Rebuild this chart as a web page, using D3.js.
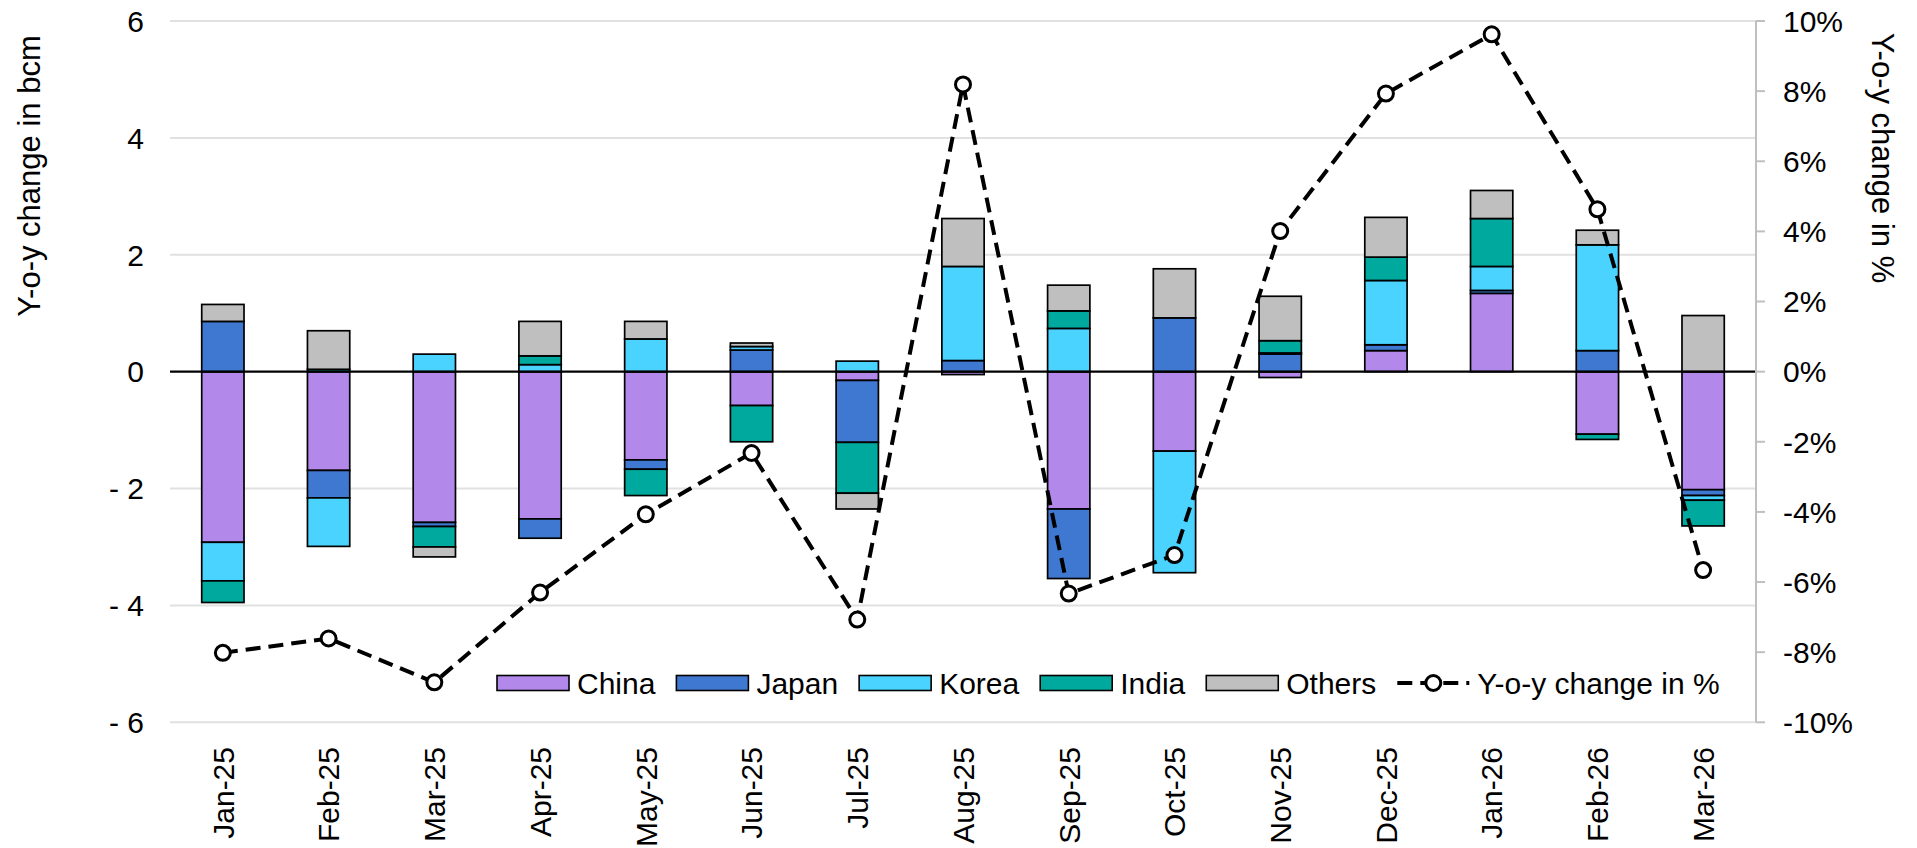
<!DOCTYPE html>
<html>
<head>
<meta charset="utf-8">
<script src="https://cdn.jsdelivr.net/npm/d3@7"></script>
<style>
  html, body { margin: 0; padding: 0; background: #fff; }
  svg { display: block; font-family: "Liberation Sans", Arial, sans-serif; }
</style>
</head>
<body>
<svg id="chart" width="1917" height="848"></svg>
<script>
// Monthly y-o-y change in LNG imports by buyer (bcm) and total y-o-y change (%)
const months = ["Jan-25","Feb-25","Mar-25","Apr-25","May-25","Jun-25","Jul-25","Aug-25",
                "Sep-25","Oct-25","Nov-25","Dec-25","Jan-26","Feb-26","Mar-26"];
const china  = [-2.92,-1.69,-2.58,-2.52,-1.51,-0.58,-0.15,-0.05,-2.35,-1.36,-0.10, 0.36, 1.34,-1.07,-2.02];
const japan  = [ 0.86,-0.47,-0.07,-0.33,-0.16, 0.37,-1.06, 0.19,-1.19, 0.92, 0.30, 0.10, 0.05, 0.36,-0.10];
const korea  = [-0.66,-0.83, 0.30, 0.12, 0.56, 0.06, 0.18, 1.61, 0.74,-2.08, 0.02, 1.10, 0.41, 1.81,-0.08];
const india  = [-0.37, 0.04,-0.35, 0.15,-0.45,-0.62,-0.87, 0.00, 0.30, 0.00, 0.21, 0.40, 0.82,-0.09,-0.44];
const others = [ 0.29, 0.66,-0.17, 0.59, 0.30, 0.06,-0.27, 0.82, 0.44, 0.84, 0.76, 0.68, 0.48, 0.25, 0.96];
const yoyPct = [-8.02,-7.61,-8.86,-6.30,-4.07,-2.32,-7.07, 8.19,-6.33,-5.23, 4.01, 7.93, 9.62, 4.63,-5.66];

const seriesNames = ["China","Japan","Korea","India","Others"];
const seriesValues = [china, japan, korea, india, others];
const seriesColors = ["#B288EB","#3F78D1","#4AD3FF","#00A99D","#BFBFBF"];

const leftTicks  = [-6,-4,-2,0,2,4,6];
const rightTicks = [-10,-8,-6,-4,-2,0,2,4,6,8,10];

const lineLabel = "Y-o-y change in %";
const leftTitle = "Y-o-y change in bcm";
const rightTitle = "Y-o-y change in %";

// Build rows for the stack layout
const rows = months.map((m, i) => {
  const r = { month: m };
  seriesNames.forEach((s, k) => { r[s] = seriesValues[k][i]; });
  return r;
});

const svg = d3.select("#chart");
const plot = { left: 170, right: 1756, top: 21, bottom: 722.3 };
const FONT = 30;

const x = d3.scaleBand().domain(months).range([plot.left, plot.right])
  .paddingInner(0.6).paddingOuter(0.3);
const y = d3.scaleLinear().domain([-6, 6]).range([plot.bottom, plot.top]);
const y2 = d3.scaleLinear().domain([-10, 10]).range([plot.bottom, plot.top]);
const color = d3.scaleOrdinal().domain(seriesNames).range(seriesColors);

// Gridlines
svg.append("g").selectAll("line")
  .data(leftTicks.filter(t => t !== 0))
  .join("line")
  .attr("x1", plot.left).attr("x2", plot.right)
  .attr("y1", d => y(d)).attr("y2", d => y(d))
  .attr("stroke", "#e1e1e1").attr("stroke-width", 2);

// Left axis tick labels
const fmtLeft = d => d < 0 ? "- " + Math.abs(d) : String(d);
svg.append("g").selectAll("text")
  .data(leftTicks)
  .join("text")
  .attr("x", 144).attr("y", d => y(d))
  .attr("dy", "0.36em")
  .attr("text-anchor", "end")
  .attr("font-size", FONT)
  .attr("fill", "#000")
  .text(fmtLeft);

// Stacked bars
const stack = d3.stack().keys(seriesNames).offset(d3.stackOffsetDiverging);
const layers = stack(rows);

svg.append("g").selectAll("g")
  .data(layers)
  .join("g")
  .attr("fill", d => color(d.key))
  .selectAll("rect")
  .data(d => d.filter(p => Math.abs(p[1] - p[0]) > 1e-9))
  .join("rect")
  .attr("x", d => x(d.data.month))
  .attr("width", x.bandwidth())
  .attr("y", d => y(Math.max(d[0], d[1])))
  .attr("height", d => Math.abs(y(d[0]) - y(d[1])))
  .attr("stroke", "#000")
  .attr("stroke-width", 1.7);

// Zero line
svg.append("line")
  .attr("x1", plot.left).attr("x2", plot.right)
  .attr("y1", y(0)).attr("y2", y(0))
  .attr("stroke", "#000").attr("stroke-width", 2.2);

// Right axis
const rAxis = svg.append("g").attr("transform", `translate(${plot.right},0)`);
rAxis.append("line")
  .attr("x1", 0).attr("x2", 0).attr("y1", plot.top).attr("y2", plot.bottom)
  .attr("stroke", "#bfbfbf").attr("stroke-width", 2);
rAxis.selectAll("line.tick")
  .data(rightTicks)
  .join("line")
  .attr("class", "tick")
  .attr("x1", 0).attr("x2", 9)
  .attr("y1", d => y2(d)).attr("y2", d => y2(d))
  .attr("stroke", "#bfbfbf").attr("stroke-width", 2);
rAxis.selectAll("text")
  .data(rightTicks)
  .join("text")
  .attr("x", 27).attr("y", d => y2(d))
  .attr("dy", "0.36em")
  .attr("font-size", FONT)
  .attr("fill", "#000")
  .text(d => d + "%");

// X axis labels (rotated)
svg.append("g").selectAll("text")
  .data(months)
  .join("text")
  .attr("transform", d => `translate(${x(d) + x.bandwidth() / 2},747) rotate(-90)`)
  .attr("dy", "0.36em")
  .attr("text-anchor", "end")
  .attr("font-size", FONT)
  .attr("fill", "#000")
  .text(d => d);

// Axis titles
svg.append("text")
  .attr("transform", "translate(40,176) rotate(-90)")
  .attr("text-anchor", "middle")
  .attr("font-size", 31)
  .attr("fill", "#000")
  .text(leftTitle);
svg.append("text")
  .attr("transform", "translate(1872,158) rotate(90)")
  .attr("text-anchor", "middle")
  .attr("font-size", 31)
  .attr("fill", "#000")
  .text(rightTitle);

// Y-o-y % line
const cx = d => x(d) + x.bandwidth() / 2;
const linePts = months.map((m, i) => [cx(m), y2(yoyPct[i])]);
svg.append("path")
  .attr("d", d3.line()(linePts))
  .attr("fill", "none")
  .attr("stroke", "#000")
  .attr("stroke-width", 4)
  .attr("stroke-dasharray", "15,8");
svg.append("g").selectAll("circle")
  .data(linePts)
  .join("circle")
  .attr("cx", d => d[0]).attr("cy", d => d[1])
  .attr("r", 7.5)
  .attr("fill", "#fff")
  .attr("stroke", "#000")
  .attr("stroke-width", 3);

// Legend
const legend = svg.append("g").attr("transform", "translate(497,683)");
let lx = 0;
const swW = 72, swH = 15, txtGap = 8, itemGap = 21;
seriesNames.forEach((name, k) => {
  const g = legend.append("g").attr("transform", `translate(${lx},0)`);
  g.append("rect")
    .attr("x", 0).attr("y", -swH / 2)
    .attr("width", swW).attr("height", swH)
    .attr("fill", seriesColors[k])
    .attr("stroke", "#000").attr("stroke-width", 1.6);
  const t = g.append("text")
    .attr("x", swW + txtGap).attr("y", 0).attr("dy", "0.36em")
    .attr("font-size", FONT).attr("fill", "#000")
    .text(name);
  lx += swW + txtGap + t.node().getComputedTextLength() + itemGap;
});
{
  const g = legend.append("g").attr("transform", `translate(${lx},0)`);
  g.append("line")
    .attr("x1", 0).attr("x2", swW).attr("y1", 0).attr("y2", 0)
    .attr("stroke", "#000").attr("stroke-width", 4)
    .attr("stroke-dasharray", "15,8");
  g.append("circle")
    .attr("cx", swW / 2).attr("cy", 0).attr("r", 7.5)
    .attr("fill", "#fff").attr("stroke", "#000").attr("stroke-width", 3);
  g.append("text")
    .attr("x", swW + txtGap).attr("y", 0).attr("dy", "0.36em")
    .attr("font-size", FONT).attr("fill", "#000")
    .text(lineLabel);
}
</script>
</body>
</html>
